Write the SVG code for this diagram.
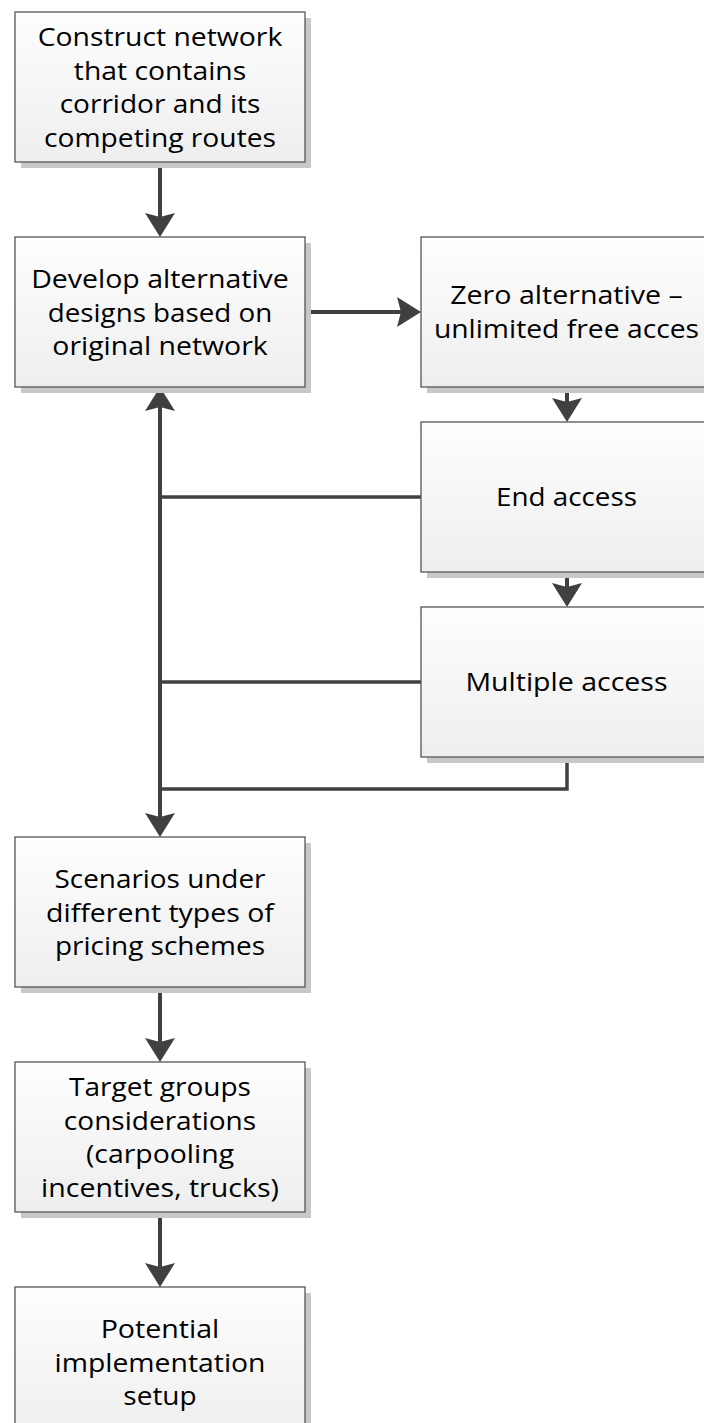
<svg xmlns="http://www.w3.org/2000/svg" width="704" height="1423" viewBox="0 0 704 1423">
<defs>
<linearGradient id="fill" x1="0" y1="0" x2="0" y2="1">
<stop offset="0" stop-color="#fefefe"/>
<stop offset="1" stop-color="#eeeeee"/>
</linearGradient>
<marker id="ah" markerUnits="userSpaceOnUse" viewBox="-25 -16 26 32" markerWidth="26" markerHeight="32" refX="-20" refY="0" orient="auto">
<path d="M0,0 L-24,-15 L-20,0 L-24,15 Z" fill="#404040"/>
</marker>
<style>
.sh{fill:#c8c8c8}
.bx{fill:url(#fill);stroke:#555;stroke-width:1.3}
.t{font-family:"Open Sans","Liberation Sans",sans-serif;font-size:26px;fill:#000;text-anchor:middle}
.c{fill:none;stroke:#404040;stroke-width:4}
.b{fill:none;stroke:#404040;stroke-width:3.5}
</style>
</defs>
<g id="connectors">
<line class="c" x1="160" y1="162" x2="160" y2="217" marker-end="url(#ah)"/>
<line class="c" x1="305" y1="312" x2="401" y2="312" marker-end="url(#ah)"/>
<line class="c" x1="567" y1="387" x2="567" y2="402" marker-end="url(#ah)"/>
<line class="c" x1="567" y1="572" x2="567" y2="587" marker-end="url(#ah)"/>
<line class="b" x1="422" y1="497" x2="160" y2="497"/>
<line class="b" x1="422" y1="682" x2="160" y2="682"/>
<polyline class="b" points="567,757 567,789 160,789"/>
<line class="c" x1="160" y1="600" x2="160" y2="407" marker-end="url(#ah)"/>
<line class="c" x1="160" y1="600" x2="160" y2="817" marker-end="url(#ah)"/>
<line class="c" x1="160" y1="987" x2="160" y2="1042" marker-end="url(#ah)"/>
<line class="c" x1="160" y1="1212" x2="160" y2="1267" marker-end="url(#ah)"/>
</g>
<g id="n1">
<rect class="sh" x="21" y="18" width="290" height="150"/>
<rect class="bx" x="15" y="12" width="290" height="150"/>
<text class="t" x="160" y="46.25" textLength="244.6" lengthAdjust="spacingAndGlyphs">Construct network</text>
<text class="t" x="160" y="79.75" textLength="172.3" lengthAdjust="spacingAndGlyphs">that contains</text>
<text class="t" x="160" y="113.25" textLength="200.7" lengthAdjust="spacingAndGlyphs">corridor and its</text>
<text class="t" x="160" y="146.75" textLength="232" lengthAdjust="spacingAndGlyphs">competing routes</text>
</g>
<g id="n2">
<rect class="sh" x="21" y="243" width="290" height="150"/>
<rect class="bx" x="15" y="237" width="290" height="150"/>
<text class="t" x="160" y="288" textLength="257.7" lengthAdjust="spacingAndGlyphs">Develop alternative</text>
<text class="t" x="160" y="321.5" textLength="224.5" lengthAdjust="spacingAndGlyphs">designs based on</text>
<text class="t" x="160" y="355" textLength="215.4" lengthAdjust="spacingAndGlyphs">original network</text>
</g>
<g id="n3">
<rect class="sh" x="427" y="243" width="290" height="150"/>
<rect class="bx" x="421" y="237" width="290" height="150"/>
<text class="t" x="566.5" y="304" textLength="232.6" lengthAdjust="spacingAndGlyphs">Zero alternative –</text>
<text class="t" x="566.5" y="337.5" textLength="265.2" lengthAdjust="spacingAndGlyphs">unlimited free acces</text>
</g>
<g id="n4">
<rect class="sh" x="427" y="428" width="290" height="150"/>
<rect class="bx" x="421" y="422" width="290" height="150"/>
<text class="t" x="566.5" y="506" textLength="141.1" lengthAdjust="spacingAndGlyphs">End access</text>
</g>
<g id="n5">
<rect class="sh" x="427" y="613" width="290" height="150"/>
<rect class="bx" x="421" y="607" width="290" height="150"/>
<text class="t" x="566.5" y="691" textLength="202.1" lengthAdjust="spacingAndGlyphs">Multiple access</text>
</g>
<g id="n6">
<rect class="sh" x="21" y="843" width="290" height="150"/>
<rect class="bx" x="15" y="837" width="290" height="150"/>
<text class="t" x="160" y="888" textLength="210.9" lengthAdjust="spacingAndGlyphs">Scenarios under</text>
<text class="t" x="160" y="921.5" textLength="227.9" lengthAdjust="spacingAndGlyphs">different types of</text>
<text class="t" x="160" y="955" textLength="210" lengthAdjust="spacingAndGlyphs">pricing schemes</text>
</g>
<g id="n7">
<rect class="sh" x="21" y="1068" width="290" height="150"/>
<rect class="bx" x="15" y="1062" width="290" height="150"/>
<text class="t" x="160" y="1096.25" textLength="181.9" lengthAdjust="spacingAndGlyphs">Target groups</text>
<text class="t" x="160" y="1129.75" textLength="192.3" lengthAdjust="spacingAndGlyphs">considerations</text>
<text class="t" x="160" y="1163.25" textLength="148.2" lengthAdjust="spacingAndGlyphs">(carpooling</text>
<text class="t" x="160" y="1196.75" textLength="237.8" lengthAdjust="spacingAndGlyphs">incentives, trucks)</text>
</g>
<g id="n8">
<rect class="sh" x="21" y="1293" width="290" height="150"/>
<rect class="bx" x="15" y="1287" width="290" height="150"/>
<text class="t" x="160" y="1338" textLength="118.7" lengthAdjust="spacingAndGlyphs">Potential</text>
<text class="t" x="160" y="1371.5" textLength="211" lengthAdjust="spacingAndGlyphs">implementation</text>
<text class="t" x="160" y="1405" textLength="73.4" lengthAdjust="spacingAndGlyphs">setup</text>
</g>
</svg>
